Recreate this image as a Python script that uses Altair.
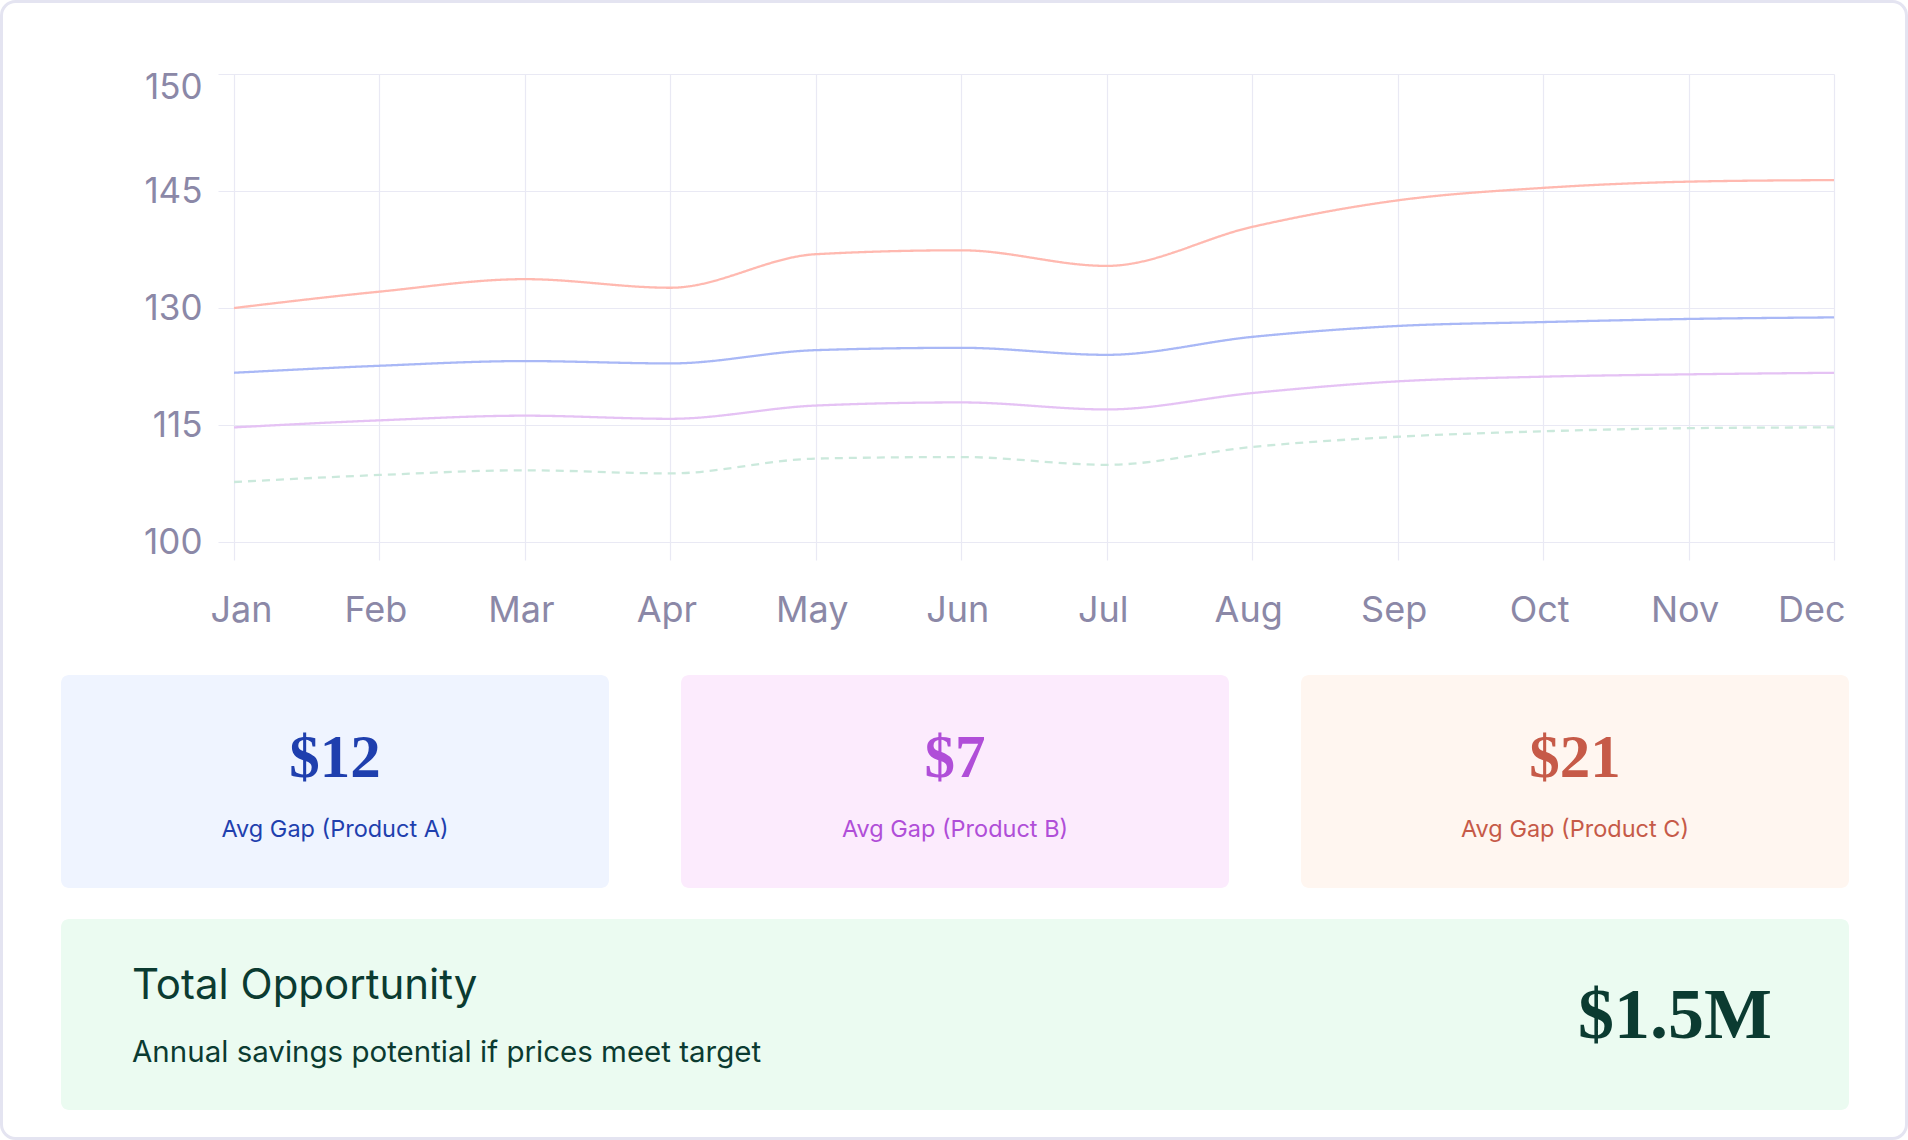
import altair as alt
import pandas as pd
import json

# ---------------- data ----------------
months = ["Jan", "Feb", "Mar", "Apr", "May", "Jun", "Jul", "Aug", "Sep", "Oct", "Nov", "Dec"]
product_c = [130.0, 132.1, 133.7, 132.6, 136.9, 137.4, 135.4, 140.4, 143.8, 145.4, 146.2, 146.4]
product_a = [121.7, 122.6, 123.2, 122.9, 124.6, 124.9, 124.0, 126.3, 127.7, 128.2, 128.6, 128.8]
product_b = [114.7, 115.6, 116.2, 115.8, 117.5, 117.9, 117.0, 119.1, 120.6, 121.2, 121.5, 121.7]
target = [107.7, 108.6, 109.2, 108.8, 110.7, 110.9, 109.9, 112.2, 113.5, 114.2, 114.6, 114.7]

series_names = ["Product C", "Product A", "Product B", "Target"]
series_colors = ["#ffb9b0", "#a9b8f6", "#e5c2f4", "#cbe9dc"]

y_tick_values = [100, 115, 130, 145, 160]
y_tick_labels = ["100", "115", "130", "145", "150"]

card_values = ["$12", "$7", "$21"]
card_labels = ["Avg Gap (Product A)", "Avg Gap (Product B)", "Avg Gap (Product C)"]
card_fills = ["#eff4ff", "#fcebfd", "#fff6f0"]
card_colors = ["#1f3fae", "#b04ed8", "#c65a48"]

total_title = "Total Opportunity"
total_subtitle = "Annual savings potential if prices meet target"
total_value = "$1.5M"
total_fill = "#ebfbf1"
total_color = "#0b3b31"

# ---------------- layout constants (pixels, relative to plot origin) ----------------
PLOT_W, PLOT_H = 1616, 486
PAD_L, PAD_T, PAD_R, PAD_B = 218, 74, 74, 580

label_color = "#8b88a7"
grid_color = "#e9e9f4"

rows = []
for name, vals in zip(series_names, [product_c, product_a, product_b, target]):
    for i, v in enumerate(vals):
        rows.append({"series": name, "idx": i, "month": months[i], "value": v,
                     "dash": "dash" if name == "Target" else "solid"})
df = pd.DataFrame(rows)

x_label_expr = json.dumps(months).replace('"', "'") + "[round(datum.value)]"
y_label_expr = ""
for v, lab in zip(y_tick_values, y_tick_labels):
    y_label_expr += f"datum.value == {v} ? '{lab}' : "
y_label_expr += "datum.label"

lines = alt.Chart(df).mark_line(interpolate="monotone", strokeWidth=2.3).encode(
    x=alt.X("idx:Q",
            scale=alt.Scale(domain=[-0.11, 11], nice=False, zero=False),
            axis=alt.Axis(values=list(range(12)), labelExpr=x_label_expr, grid=True,
                          ticks=False, domain=False, labelPadding=33, labelFontSize=36,
                          labelColor=label_color, gridColor=grid_color, gridWidth=1.2,
                          labelFlush=True, labelFlushOffset=15,
                          labelOffset={"condition": {"test": "datum.value == 0", "value": 7}, "value": -4},
                          title=None)),
    y=alt.Y("value:Q",
            scale=alt.Scale(domain=[97.7, 160], nice=False, zero=False),
            axis=alt.Axis(values=y_tick_values, labelExpr=y_label_expr, grid=True,
                          ticks=False, domain=False, labelPadding=16, labelFontSize=35,
                          labelColor=label_color, gridColor=grid_color, gridWidth=1.2,
                          labelFlush=True, labelFlushOffset=4, title=None)),
    color=alt.Color("series:N", scale=alt.Scale(domain=series_names, range=series_colors), legend=None),
    strokeDash=alt.StrokeDash("dash:N", scale=alt.Scale(domain=["solid", "dash"], range=[[1, 0], [8, 6]]),
                              legend=None),
    order=alt.Order("idx:Q"),
)

one = alt.Data(values=[{"k": 1}])

# outer card border
border = alt.Chart(one).mark_rect(fill="transparent", stroke="#e4e4f1", strokeWidth=3, cornerRadius=14).encode(
    x=alt.value(-PAD_L + 1.5), x2=alt.value(PLOT_W + PAD_R - 1.5),
    y=alt.value(-PAD_T + 1.5), y2=alt.value(PLOT_H + PAD_B - 1.5),
)

layers = [border]

card_left0 = -157
card_w = 548
card_gap = 72
card_top, card_bottom = 601, 814
for i in range(3):
    x0 = card_left0 + i * (card_w + card_gap)
    cx = x0 + card_w / 2
    layers.append(alt.Chart(one).mark_rect(fill=card_fills[i], cornerRadius=8).encode(
        x=alt.value(x0), x2=alt.value(x0 + card_w), y=alt.value(card_top), y2=alt.value(card_bottom)))
    layers.append(alt.Chart(pd.DataFrame({"t": [card_values[i]]})).mark_text(
        font="Liberation Serif", fontWeight="bold", fontSize=61, color=card_colors[i],
        align="center", baseline="alphabetic").encode(
        text="t:N", x=alt.value(cx), y=alt.value(703)))
    layers.append(alt.Chart(pd.DataFrame({"t": [card_labels[i]]})).mark_text(
        font="Inter", fontSize=23.5, color=card_colors[i], align="center", baseline="alphabetic").encode(
        text="t:N", x=alt.value(cx), y=alt.value(762.5)))

tot_x0 = card_left0
tot_x1 = card_left0 + 3 * card_w + 2 * card_gap
layers.append(alt.Chart(one).mark_rect(fill=total_fill, cornerRadius=8).encode(
    x=alt.value(tot_x0), x2=alt.value(tot_x1), y=alt.value(845), y2=alt.value(1036)))
layers.append(alt.Chart(pd.DataFrame({"t": [total_title]})).mark_text(
    font="Inter", fontSize=42, color=total_color, align="left", baseline="alphabetic").encode(
    text="t:N", x=alt.value(-86), y=alt.value(925)))
layers.append(alt.Chart(pd.DataFrame({"t": [total_subtitle]})).mark_text(
    font="Inter", fontSize=29.5, color=total_color, align="left", baseline="alphabetic").encode(
    text="t:N", x=alt.value(-86), y=alt.value(988)))
layers.append(alt.Chart(pd.DataFrame({"t": [total_value]})).mark_text(
    font="Liberation Serif", fontWeight="bold", fontSize=72, color=total_color, align="right",
    baseline="alphabetic").encode(
    text="t:N", x=alt.value(1554), y=alt.value(964)))

layers.append(lines)

chart = alt.layer(*layers).properties(
    width=PLOT_W, height=PLOT_H,
    autosize=alt.AutoSizeParams(type="none"),
    padding={"left": PAD_L, "top": PAD_T, "right": PAD_R, "bottom": PAD_B},
    background="white",
).configure_view(strokeWidth=0).configure_axis(labelFont="Inter")

chart.save("out.html", embed_options={"renderer": "svg", "actions": False})
